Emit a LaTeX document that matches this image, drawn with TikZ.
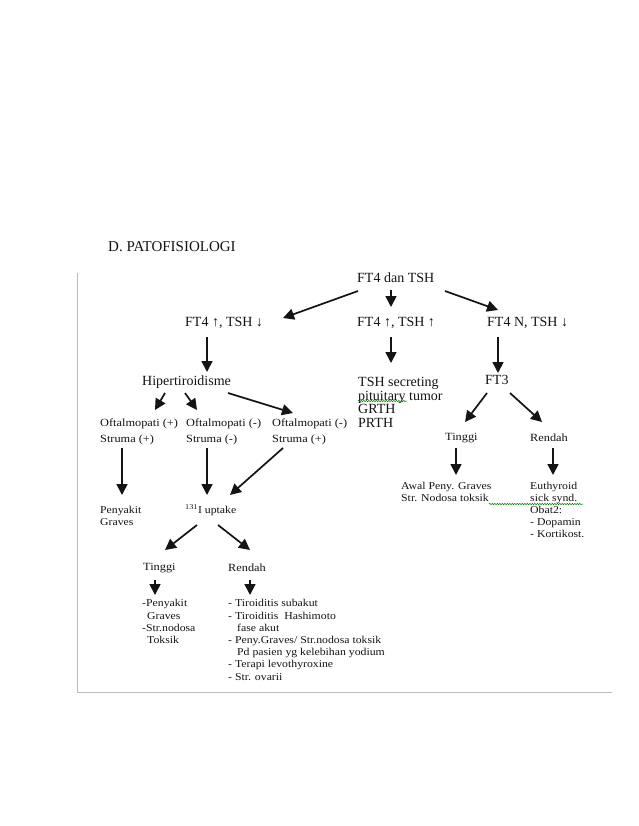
\documentclass[tikz,border=0pt]{standalone}
\usepackage{fontspec}
\setmainfont{Liberation Serif}
\newfontfamily\smf[FakeStretch=1.12]{Liberation Serif}
\usetikzlibrary{arrows.meta,decorations.pathmorphing}
\definecolor{ink}{gray}{0.08}
\begin{document}
\begin{tikzpicture}[x=1pt,y=-1pt,
  big/.style={font=\fontsize{14}{13.7}\selectfont, inner sep=0pt, align=left, text=ink},
  small/.style={font=\smf\fontsize{10.5}{12}\selectfont, inner sep=0pt, align=left, text=ink},
  smallb/.style={font=\smf\fontsize{11}{15.5}\selectfont, inner sep=0pt, align=left, text=ink},
  arr/.style={line width=1.7pt, draw=ink, -{Triangle[length=11pt,width=11pt]}},
  frameline/.style={draw=gray!55, line width=0.9pt},
  spell/.style={draw=green!50!black, line width=0.5pt, decorate,
    decoration={snake, amplitude=0.7pt, segment length=2.5pt}}
]
\useasboundingbox (0,0) rectangle (638,826);
\fill[white] (0,0) rectangle (638,826);

% title
\node[font=\fontsize{15}{17}\selectfont, inner sep=0pt, anchor=west, text=ink] (title) at (108,247) {D. PATOFISIOLOGI};

% frame
\coordinate (fa) at (77,273);
\coordinate (fb) at (77,692);
\coordinate (fc) at (612,692);
\draw[frameline] (fa) -- (fb) -- (fc);

% big nodes
\node[big, anchor=west] (top) at (357,278) {FT4 dan TSH};
\node[big, anchor=west] (l1) at (185,323) {FT4 ↑, TSH ↓};
\node[big, anchor=west] (m1) at (357,323) {FT4 ↑, TSH ↑};
\node[big, anchor=west] (r1) at (487,323) {FT4 N, TSH ↓};
\node[big, anchor=west] (hip) at (142,382) {Hipertiroidisme};
\node[big, anchor=north west] (tsh) at (358,377) {TSH secreting\\pituitary tumor\\GRTH\\PRTH};
\node[big, anchor=west] (ft3) at (485,380) {FT3};

% small nodes
\node[smallb, anchor=north west] (o1) at (100,419) {Oftalmopati (+)\\Struma (+)};
\node[smallb, anchor=north west] (o2) at (186,419) {Oftalmopati (-)\\Struma (-)};
\node[smallb, anchor=north west] (o3) at (272,419) {Oftalmopati (-)\\Struma (+)};
\node[small, anchor=north west, font=\smf\fontsize{10.5}{11.5}\selectfont] (pg) at (100,506.5) {Penyakit\\Graves};
\node[small, anchor=west] (up) at (185,510) {\textsuperscript{131}I uptake};
\node[smallb, anchor=west] (t1) at (143,568) {Tinggi};
\node[smallb, anchor=west] (rl) at (228,568) {Rendah};
\node[small, anchor=north west, font=\smf\fontsize{10.5}{12.3}\selectfont] (tlist) at (142,599.5)
  {-Penyakit\\\hspace*{5pt}Graves\\-Str.nodosa\\\hspace*{5pt}Toksik};
\node[small, anchor=north west, font=\smf\fontsize{10.5}{12.2}\selectfont] (rlist) at (228,599.5)
  {- Tiroiditis subakut\\- Tiroiditis\ \ Hashimoto\\\hspace*{9pt}fase akut\\- Peny.Graves/ Str.nodosa toksik\\\hspace*{9pt}Pd pasien yg kelebihan yodium\\- Terapi levothyroxine\\- Str. ovarii};
\node[smallb, anchor=west] (tr) at (445,438) {Tinggi};
\node[smallb, anchor=west] (rr) at (530,438) {Rendah};
\node[small, anchor=north west] (awal) at (401,482.5) {Awal Peny. Graves\\Str. Nodosa toksik};
\node[small, anchor=north west] (eu) at (530,482.5) {Euthyroid\\sick synd.\\Obat2:\\- Dopamin\\- Kortikost.};

% spell-check underlines
\coordinate (s1a) at (358,401); \coordinate (s1b) at (407,401);
\coordinate (s2a) at (489,504); \coordinate (s2b) at (583,504);
\draw[spell] (s1a) -- (s1b);
\draw[spell] (s2a) -- (s2b);

% connectors
\draw[arr] ([shift={(1,13)}]top.west) -- ([shift={(98,-5)}]l1.west);
\draw[arr] ([shift={(34,12)}]top.west) -- ([shift={(34,-16)}]m1.west);
\draw[arr] ([shift={(88,13)}]top.west) -- ([shift={(11,-13)}]r1.west);
\draw[arr] ([shift={(22,14)}]l1.west) -- ([shift={(65,-10)}]hip.west);
\draw[arr] ([shift={(34,14)}]m1.west) -- ([shift={(33,-14)}]tsh.north west);
\draw[arr] ([shift={(11,14)}]r1.west) -- ([shift={(13,-7)}]ft3.west);
\draw[arr] ([shift={(23,11)}]hip.west) -- ([shift={(55,-9)}]o1.north west);
\draw[arr] ([shift={(43,11)}]hip.west) -- ([shift={(11,-9)}]o2.north west);
\draw[arr] ([shift={(86,11)}]hip.west) -- ([shift={(21,-6)}]o3.north west);
\draw[arr] ([shift={(22,29)}]o1.north west) -- ([shift={(22,-11.5)}]pg.north west);
\draw[arr] ([shift={(21,29)}]o2.north west) -- ([shift={(22,-15)}]up.west);
\draw[arr] ([shift={(11,29)}]o3.north west) -- ([shift={(45,-15)}]up.west);
\draw[arr] ([shift={(12,15)}]up.west) -- ([shift={(22,-18)}]t1.west);
\draw[arr] ([shift={(33,15)}]up.west) -- ([shift={(22,-18)}]rl.west);
\draw[arr] ([shift={(12,12)}]t1.west) -- ([shift={(13,-4.5)}]tlist.north west);
\draw[arr] ([shift={(22,12)}]rl.west) -- ([shift={(22,-4.5)}]rlist.north west);
\draw[arr] ([shift={(2,13)}]ft3.west) -- ([shift={(20,-16)}]tr.west);
\draw[arr] ([shift={(25,13)}]ft3.west) -- ([shift={(12,-16)}]rr.west);
\draw[arr] ([shift={(11,10)}]tr.west) -- ([shift={(55,-7.5)}]awal.north west);
\draw[arr] ([shift={(23,10)}]rr.west) -- ([shift={(23,-7.5)}]eu.north west);
\end{tikzpicture}
\end{document}
